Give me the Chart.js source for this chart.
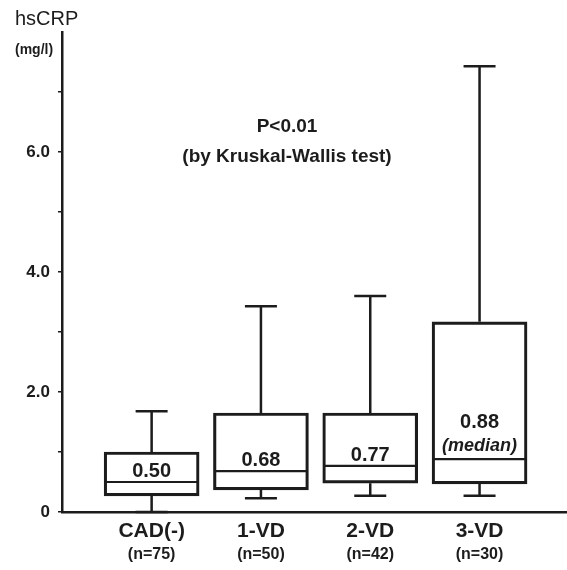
<!DOCTYPE html>
<html><head><meta charset="utf-8">
<script src="https://cdn.jsdelivr.net/npm/chart.js@4/dist/chart.umd.min.js"></script>
<style>html,body{margin:0;padding:0;background:#fff}#wrap{width:567px;height:570px;position:relative}</style>
</head><body><div id="wrap"><canvas id="c"></canvas></div>
<script>
const categories = ["CAD(-)", "1-VD", "2-VD", "3-VD"];
const nLabels = ["(n=75)", "(n=50)", "(n=42)", "(n=30)"];
const whiskerLow = [0, 0.23, 0.27, 0.27];
const q1 = [0.27, 0.37, 0.48, 0.47];
const median = [0.50, 0.68, 0.77, 0.88];
const q3 = [1.0, 1.65, 1.65, 3.17];
const whiskerHigh = [1.68, 3.43, 3.6, 7.43];
const medianLabels = [["0.50"], ["0.68"], ["0.77"], ["0.88", "(median)"]];
const yLabeled = [0, 2, 4, 6];

const INK = '#1c1c1c';
const FONT = "'Liberation Sans', Arial, sans-serif";

const boxPlugin = {
  id: 'boxExtras',
  afterDatasetsDraw(chart) {
    const {ctx, scales:{x, y}} = chart;
    ctx.save();
    ctx.strokeStyle = INK;
    ctx.fillStyle = INK;
    categories.forEach((c, i) => {
      const cx = x.getPixelForValue(i + 1);
      const half = 47;
      const cap = 16;
      ctx.lineWidth = 2.5;
      ctx.beginPath();
      ctx.moveTo(cx, y.getPixelForValue(q3[i]));
      ctx.lineTo(cx, y.getPixelForValue(whiskerHigh[i]));
      ctx.moveTo(cx - cap, y.getPixelForValue(whiskerHigh[i]));
      ctx.lineTo(cx + cap, y.getPixelForValue(whiskerHigh[i]));
      ctx.moveTo(cx, y.getPixelForValue(q1[i]));
      ctx.lineTo(cx, y.getPixelForValue(whiskerLow[i]));
      ctx.moveTo(cx - cap, y.getPixelForValue(whiskerLow[i]));
      ctx.lineTo(cx + cap, y.getPixelForValue(whiskerLow[i]));
      ctx.stroke();
      const my = y.getPixelForValue(median[i]);
      ctx.lineWidth = 2.2;
      ctx.beginPath();
      ctx.moveTo(cx - half, my);
      ctx.lineTo(cx + half, my);
      ctx.stroke();
      const lines = medianLabels[i];
      ctx.textAlign = 'center';
      ctx.textBaseline = 'alphabetic';
      let base = my - (lines.length > 1 ? 8 : 5);
      for (let k = lines.length - 1; k >= 0; k--) {
        ctx.font = (k === 0 ? "bold 20px " : "italic bold 18px ") + FONT;
        ctx.fillText(lines[k], cx, base);
        base -= 23;
      }
      ctx.font = "bold 16px " + FONT;
      ctx.textBaseline = 'middle';
      ctx.fillText(nLabels[i], cx, 555);
    });
    ctx.textAlign = 'left';
    ctx.textBaseline = 'alphabetic';
    ctx.font = "20px " + FONT;
    ctx.fillText("hsCRP", 15, 25);
    ctx.font = "bold 14px " + FONT;
    ctx.textBaseline = 'middle';
    ctx.fillText("(mg/l)", 15, 50);
    ctx.textAlign = 'center';
    ctx.font = "bold 19px " + FONT;
    ctx.fillText("P<0.01", 287, 127);
    ctx.fillText("(by Kruskal-Wallis test)", 287, 157);
    ctx.restore();
  }
};

new Chart(document.getElementById('c'), {
  type: 'bar',
  data: {
    datasets: [{
      data: categories.map((c, i) => ({x: i + 1, y: [q1[i], q3[i]]})),
      backgroundColor: 'rgba(255,255,255,0)',
      borderColor: INK,
      borderWidth: 2.5,
      borderSkipped: false,
      barThickness: 95
    }]
  },
  options: {
    responsive: true,
    maintainAspectRatio: false,
    animation: false,
    layout: {padding: {top: 32, right: 0, left: 0, bottom: 0}},
    plugins: {legend: {display: false}, tooltip: {enabled: false}},
    scales: {
      x: {
        type: 'linear',
        offset: false,
        min: 0.18, max: 4.8,
        afterBuildTicks: s => { s.ticks = categories.map((c, i) => ({value: i + 1})); },
        afterFit: s => { s.height = 58; },
        grid: {display: false, drawTicks: false, offset: false},
        border: {display: true, color: INK, width: 2.5},
        ticks: {
          padding: 7,
          color: INK,
          font: {family: FONT, size: 21, weight: 'bold'},
          callback: v => categories[v - 1] || ''
        }
      },
      y: {
        min: 0, max: 8,
        afterBuildTicks: s => { s.ticks = [0,1,2,3,4,5,6,7].map(v => ({value: v})); },
        afterFit: s => { s.width = 62; },
        grid: {drawOnChartArea: false, drawTicks: true, tickLength: 4, color: INK, lineWidth: 1.5},
        border: {display: true, color: INK, width: 2.5},
        ticks: {
          padding: 8,
          color: INK,
          font: {family: FONT, size: 17, weight: 'bold'},
          callback: v => yLabeled.includes(v) ? (v === 0 ? '0' : v.toFixed(1)) : ''
        }
      }
    }
  },
  plugins: [boxPlugin]
});
</script></body></html>
